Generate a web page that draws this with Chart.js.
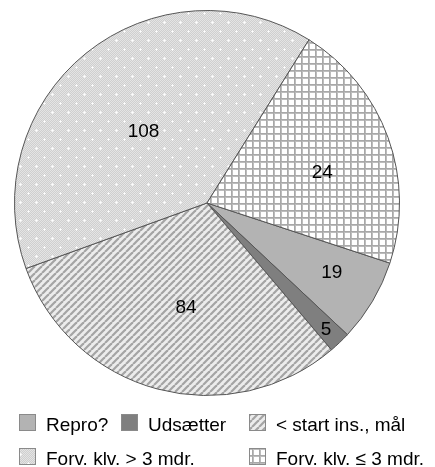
<!DOCTYPE html>
<html><head><meta charset="utf-8">
<script src="https://cdn.jsdelivr.net/npm/chart.js@4"></script>
<style>html,body{margin:0;padding:0;background:#fff;overflow:hidden}#wrap{width:435px;height:467px}</style>
</head><body><div id="wrap"><canvas id="c" width="435" height="467"></canvas></div>
<script>
// Categories in drawing order (clockwise, starting at Repro?)
const categories = ['Repro?', 'Udsætter', '< start ins., mål', 'Forv. klv. > 3 mdr.', 'Forv. klv. ≤ 3 mdr.'];
// Slice sizes as measured from the slice angles in the picture
const sliceValues = [19, 5, 84, 108, 58];
// Numbers printed on the slices
const printedLabels = ['19', '5', '84', '108', '24'];

function makePattern(kind) {
  const t = document.createElement('canvas');
  const g = t.getContext('2d');
  if (kind === 'stripes') {
    t.width = 7; t.height = 7;
    g.fillStyle = '#ececec'; g.fillRect(0, 0, 7, 7);
    g.strokeStyle = '#a4a4a4'; g.lineWidth = 2.2;
    for (let k = -7; k <= 14; k += 7) {
      g.beginPath(); g.moveTo(k, 7); g.lineTo(k + 7, 0); g.stroke();
    }
  } else if (kind === 'dots') {
    t.width = 16; t.height = 18;
    for (let y = 0; y < 18; y++) for (let x = 0; x < 16; x++) {
      g.fillStyle = ((x + y) % 2) ? '#cfcfcf' : '#e4e4e4';
      g.fillRect(x, y, 1, 1);
    }
    const dot = (cx, cy) => {
      g.fillStyle = '#f6f6f6';
      g.fillRect(cx - 1, cy, 3, 1); g.fillRect(cx, cy - 1, 1, 3);
      g.fillStyle = '#ffffff'; g.fillRect(cx, cy, 1, 1);
    };
    dot(4, 4); dot(12, 13);
  } else if (kind === 'grid') {
    t.width = 7; t.height = 7;
    g.fillStyle = '#ffffff'; g.fillRect(0, 0, 7, 7);
    g.fillStyle = '#bdbdbd';
    g.fillRect(0, 0, 7, 2); g.fillRect(0, 0, 2, 7);
    g.fillStyle = '#a8a8a8';
    g.fillRect(0, 0, 7, 1); g.fillRect(0, 0, 1, 7);
  }
  return g.createPattern(t, 'repeat');
}

const ctx0 = document.getElementById('c').getContext('2d');
const fills = ['#b3b3b3', '#7f7f7f', makePattern('stripes'), makePattern('dots'), makePattern('grid')];

const sliceLabelPlugin = {
  id: 'sliceLabels',
  afterDatasetsDraw(chart, args, opts) {
    const meta = chart.getDatasetMeta(0);
    const ctx = chart.ctx;
    ctx.save();
    ctx.font = '19px "Liberation Sans", Arial, sans-serif';
    ctx.fillStyle = '#000';
    ctx.textAlign = 'center';
    ctx.textBaseline = 'middle';
    meta.data.forEach((arc, i) => {
      const p = arc.getProps(['x', 'y', 'startAngle', 'endAngle', 'outerRadius'], true);
      const pl = opts.place[i];
      const a = (p.startAngle + p.endAngle) / 2 + pl.da * Math.PI / 180;
      const r = p.outerRadius * pl.r;
      ctx.fillText(printedLabels[i], p.x + Math.cos(a) * r, p.y + Math.sin(a) * r + 1);
    });
    ctx.restore();
  }
};

const gridLegendPlugin = {
  id: 'gridLegend',
  afterDraw(chart, args, opts) {
    const ctx = chart.ctx;
    const ds = chart.data.datasets[0];
    ctx.save();
    ctx.font = '19px "Liberation Sans", Arial, sans-serif';
    ctx.textBaseline = 'alphabetic';
    ctx.textAlign = 'left';
    chart.data.labels.forEach((lab, i) => {
      const s = opts.slots[i];
      ctx.fillStyle = ds.backgroundColor[i];
      ctx.fillRect(s.x, s.y, opts.box, opts.box);
      ctx.strokeStyle = '#8a8a8a';
      ctx.lineWidth = 1;
      ctx.strokeRect(s.x + 0.5, s.y + 0.5, opts.box - 1, opts.box - 1);
      ctx.fillStyle = '#000';
      ctx.fillText(lab, s.x + opts.gap, s.y + opts.baseline);
    });
    ctx.restore();
  }
};

new Chart(ctx0, {
  type: 'pie',
  data: {
    labels: categories,
    datasets: [{
      data: sliceValues,
      backgroundColor: fills,
      borderColor: '#555555',
      borderWidth: 1
    }]
  },
  options: {
    responsive: false,
    animation: false,
    rotation: 108.2,
    layout: { padding: { left: 14, right: 35, top: 10, bottom: 71 } },
    plugins: {
      legend: { display: false },
      tooltip: { enabled: false },
      sliceLabels: {
        place: [
          { r: 0.74, da: -1.8 },
          { r: 0.90, da: 0.2 },
          { r: 0.55, da: -3.5 },
          { r: 0.50, da: -2.3 },
          { r: 0.62, da: 4.8 }
        ]
      },
      gridLegend: {
        box: 17, gap: 27, baseline: 17,
        slots: [
          { x: 19, y: 414 }, { x: 121, y: 414 }, { x: 249, y: 414 },
          { x: 19, y: 448 }, { x: 249, y: 448 }
        ]
      }
    }
  },
  plugins: [sliceLabelPlugin, gridLegendPlugin]
});
</script></body></html>
